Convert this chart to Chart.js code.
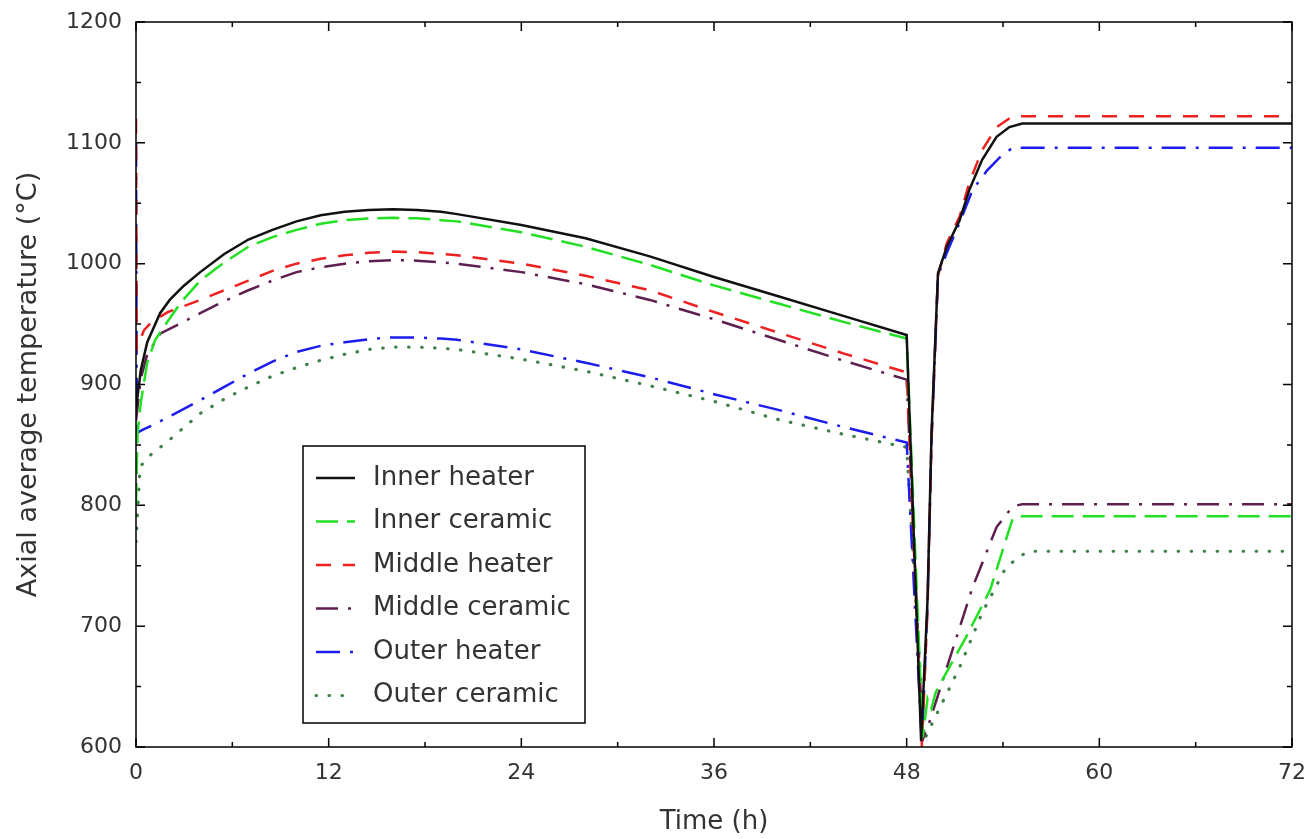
<!DOCTYPE html>
<html>
<head>
<meta charset="utf-8">
<title>Axial average temperature</title>
<script src="https://cdn.jsdelivr.net/npm/chart.js@4.4.1/dist/chart.umd.min.js"></script>
<style>
  html, body { margin: 0; padding: 0; background: #fff; }
  #wrap { width: 1312px; height: 839px; }
</style>
</head>
<body>
<div id="wrap"><canvas id="tempChart" width="1312" height="839"></canvas></div>
<script>
// --- data: time (h) and temperature (°C) for each zone ---
var innerHeaterTime = [0, 0.3, 0.7, 1.5, 2.1, 3, 4, 5.5, 7, 8.5, 10, 11.5, 13, 14.5, 16, 17.5, 19, 20, 24, 28, 32, 36, 40, 44, 48, 48.9, 49.3, 49.55, 49.8, 49.95, 50.5, 51.3, 51.9, 52.7, 53.6, 54.4, 55.2, 72];
var innerHeaterTemp = [880, 912, 935, 959, 970, 982, 993, 1008, 1020, 1028, 1035, 1040, 1043, 1044.5, 1045, 1044.5, 1043, 1041, 1032, 1021, 1006, 989, 973, 957, 941, 605, 722, 860, 943, 992, 1014, 1036, 1061, 1086, 1105, 1113, 1116, 1116];

var innerCeramicTime = [0, 0.1, 0.3, 0.7, 1.2, 1.7, 2.8, 4, 5.5, 7, 8.5, 10, 11.5, 13, 14.5, 16, 17.5, 19, 20, 24, 28, 32, 36, 40, 44, 48, 49.0, 49.3, 49.55, 49.8, 50.2, 51.7, 53.2, 54.6, 55.2, 72];
var innerCeramicTemp = [800, 860, 885, 918, 937, 947, 968, 986, 1001, 1014, 1022, 1028, 1033, 1036, 1037.5, 1038, 1037.5, 1036, 1035, 1026, 1014, 999, 982, 967, 952, 938, 608, 640, 632, 645, 655, 691, 730, 789, 791, 791];

var middleHeaterTime = [0, 0.05, 0.5, 1, 2, 4, 5.5, 7, 8.5, 10, 11.5, 13, 14.5, 16, 17.5, 19, 20, 24, 28, 32, 36, 40, 44, 48, 48.95, 49.3, 49.55, 49.8, 49.95, 50.5, 51.3, 51.9, 52.7, 53.6, 54.6, 72];
var middleHeaterTemp = [1120, 930, 945, 952, 960, 970, 978, 986, 994, 1000, 1004, 1007, 1009, 1010, 1009.5, 1008, 1007, 1000, 990, 978, 960, 943, 926, 910, 600, 715, 855, 940, 990, 1017, 1039, 1067, 1094, 1113, 1122, 1122];

var middleCeramicTime = [0, 0.3, 0.7, 1.5, 4, 5.5, 7, 8.5, 10, 11.5, 13, 14.5, 16, 17.5, 19, 20, 24, 28, 32, 36, 40, 44, 48, 49.0, 49.4, 50.7, 52.1, 53.6, 54.6, 55.2, 72];
var middleCeramicTemp = [870, 905, 925, 942, 959, 969, 978, 986, 993, 997, 1000, 1002, 1003, 1002.5, 1001, 1000, 993, 983, 970, 954, 937, 920, 904, 606, 620, 674, 732, 782, 799, 801, 801];

var outerHeaterTime = [0, 0.05, 0.5, 1, 4, 5.5, 7, 8.5, 10, 11.5, 13, 14.5, 16, 17.5, 19, 20, 24, 28, 32, 36, 40, 44, 48, 48.95, 49.3, 49.55, 49.8, 49.95, 50.5, 51.3, 52.1, 53, 53.8, 54.6, 72];
var outerHeaterTemp = [1100, 860, 863, 866, 887, 898, 909, 919, 927, 932, 935, 937.5, 939, 939, 938, 937, 929, 918, 906, 892, 879, 865, 852, 603, 718, 855, 938, 990, 1009, 1034, 1061, 1077, 1088, 1096, 1096];

var outerCeramicTime = [0, 0.25, 1, 1.9, 4, 5.5, 7, 8.5, 10, 11.5, 13, 14.5, 16, 17.5, 19, 20, 24, 28, 32, 36, 40, 44, 48, 49.1, 49.9, 51.3, 52.7, 54.2, 55.2, 55.7, 72];
var outerCeramicTemp = [770, 832, 843, 852, 876, 888, 898, 907, 914, 920, 925, 929, 931, 931, 930, 929, 921, 911, 899, 886, 871, 859, 848, 606, 628, 666, 711, 749, 759, 762, 762];

var xTicks = [0, 12, 24, 36, 48, 60, 72];
var yTicks = [600, 700, 800, 900, 1000, 1100, 1200];

var FONT = "'DejaVu Sans', sans-serif";
var TEXT = '#333333';

// pair up time and temperature arrays into {x, y} points
function toPoints(times, temps) {
    return times.map(function (t, i) { return { x: t, y: temps[i] }; });
}

function makeSet(label, times, temps, color, dash, cap, width) {
    return {
        label: label,
        data: toPoints(times, temps),
        borderColor: color,
        backgroundColor: color,
        borderWidth: width || 2.5,
        borderDash: dash,
        borderCapStyle: cap || 'butt',
        pointRadius: 0,
        tension: 0,
        fill: false
    };
}

// inward tick marks on all four sides plus the frame
var frameTicks = {
    id: 'frameTicks',
    afterDraw: function (chart) {
        var ctx = chart.ctx;
        var a = chart.chartArea;
        var xs = chart.scales.x, ys = chart.scales.y;
        ctx.save();
        ctx.strokeStyle = '#000';
        ctx.lineWidth = 1.5;
        ctx.setLineDash([]);
        ctx.beginPath();
        for (var t = 0; t <= 72; t += 6) {
            var px = xs.getPixelForValue(t);
            var len = (t % 12 === 0) ? 9 : 5;
            ctx.moveTo(px, a.bottom); ctx.lineTo(px, a.bottom - len);
            ctx.moveTo(px, a.top); ctx.lineTo(px, a.top + len);
        }
        for (var v = 600; v <= 1200; v += 50) {
            var py = ys.getPixelForValue(v);
            var l2 = (v % 100 === 0) ? 9 : 5;
            ctx.moveTo(a.left, py); ctx.lineTo(a.left + l2, py);
            ctx.moveTo(a.right, py); ctx.lineTo(a.right - l2, py);
        }
        ctx.stroke();
        ctx.strokeRect(a.left, a.top, a.right - a.left, a.bottom - a.top);
        ctx.restore();
    }
};

// boxed legend inside the plot area, lower left
var boxLegend = {
    id: 'boxLegend',
    afterDatasetsDraw: function (chart) {
        var ctx = chart.ctx;
        var a = chart.chartArea;
        var bx = a.left + 167, by = a.top + 424, bw = 282, bh = 277;
        ctx.save();
        ctx.fillStyle = '#fff';
        ctx.fillRect(bx, by, bw, bh);
        ctx.strokeStyle = '#000';
        ctx.lineWidth = 1.5;
        ctx.setLineDash([]);
        ctx.strokeRect(bx, by, bw, bh);
        ctx.font = '26px ' + FONT;
        ctx.textBaseline = 'middle';
        chart.data.datasets.forEach(function (ds, i) {
            var cy = by + 32 + i * 43.5;
            ctx.strokeStyle = ds.borderColor;
            ctx.lineWidth = ds.borderWidth;
            ctx.lineCap = ds.borderCapStyle;
            ctx.setLineDash(ds.borderDash || []);
            ctx.beginPath();
            ctx.moveTo(bx + 13, cy);
            ctx.lineTo(bx + 52, cy);
            ctx.stroke();
            ctx.fillStyle = TEXT;
            ctx.fillText(ds.label, bx + 70, cy);
        });
        ctx.restore();
    }
};

var chart = new Chart(document.getElementById('tempChart'), {
    type: 'line',
    data: {
        datasets: [
            makeSet('Inner heater', innerHeaterTime, innerHeaterTemp, '#111111', []),
            makeSet('Inner ceramic', innerCeramicTime, innerCeramicTemp, '#22e022', [22, 9]),
            makeSet('Middle heater', middleHeaterTime, middleHeaterTemp, '#ee2020', [15, 12]),
            makeSet('Middle ceramic', middleCeramicTime, middleCeramicTemp, '#5e1f50', [22, 10, 3, 10]),
            makeSet('Outer heater', outerHeaterTime, outerHeaterTemp, '#1c1cee', [24, 10, 3, 10]),
            makeSet('Outer ceramic', outerCeramicTime, outerCeramicTemp, '#3f8249', [0.5, 12.5], 'round', 3.2)
        ]
    },
    options: {
        responsive: false,
        animation: false,
        devicePixelRatio: 1,
        layout: { padding: { top: 22, right: 20, left: 0, bottom: 0 } },
        plugins: {
            legend: { display: false },
            tooltip: { enabled: false }
        },
        scales: {
            x: {
                type: 'linear',
                min: 0,
                max: 72,
                afterBuildTicks: function (scale) {
                    scale.ticks = xTicks.map(function (v) { return { value: v }; });
                },
                afterFit: function (scale) {
                    scale.height = 92;
                    scale.paddingLeft = 0;
                    scale.paddingRight = 0;
                },
                grid: { display: false, drawTicks: false },
                border: { display: false },
                ticks: {
                    padding: 13,
                    maxRotation: 0,
                    color: TEXT,
                    font: { family: FONT, size: 22 },
                    callback: function (v) { return String(v); }
                },
                title: {
                    display: true,
                    text: 'Time (h)',
                    color: TEXT,
                    font: { family: FONT, size: 26 },
                    padding: { top: 0, bottom: 1 }
                }
            },
            y: {
                type: 'linear',
                min: 600,
                max: 1200,
                afterBuildTicks: function (scale) {
                    scale.ticks = yTicks.map(function (v) { return { value: v }; });
                },
                afterFit: function (scale) {
                    scale.width = 136;
                    scale.paddingTop = 0;
                    scale.paddingBottom = 0;
                },
                grid: { display: false, drawTicks: false },
                border: { display: false },
                ticks: {
                    padding: 14,
                    color: TEXT,
                    font: { family: FONT, size: 22 },
                    callback: function (v) { return String(v); }
                },
                title: {
                    display: true,
                    text: 'Axial average temperature (°C)',
                    color: TEXT,
                    font: { family: FONT, size: 27 },
                    padding: { top: 13, bottom: 0 }
                }
            }
        }
    },
    plugins: [frameTicks, boxLegend]
});
</script>
</body>
</html>
